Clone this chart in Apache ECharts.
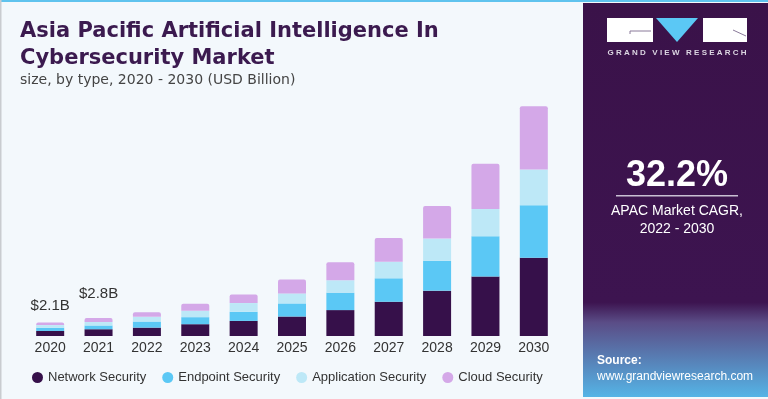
<!DOCTYPE html>
<html lang="en">
<head>
  <meta charset="UTF-8">
  <title>Asia Pacific AI in Cybersecurity Market</title>
  <script src="https://cdn.jsdelivr.net/npm/echarts@6/dist/echarts.min.js"></script>
  <style>
    html, body {
      margin: 0;
      padding: 0;
      background: #f3f8fc;
    }

    #main {
      width: 768px;
      height: 399px;
    }
  </style>
</head>
<body>
<div id="main"></div>
<script>
  // data (USD Billion)
  var years = ['2020', '2021', '2022', '2023', '2024', '2025', '2026', '2027', '2028', '2029', '2030'];
  var network = [0.78, 1.05, 1.30, 1.83, 2.34, 3.02, 4.02, 5.31, 7.03, 9.22, 12.14];
  var endpoint = [0.50, 0.58, 0.94, 1.09, 1.41, 2.03, 2.70, 3.64, 4.64, 6.25, 8.13];
  var application = [0.41, 0.53, 0.73, 0.98, 1.36, 1.56, 1.92, 2.56, 3.44, 4.22, 5.56];
  var cloud = [0.41, 0.64, 0.73, 1.09, 1.34, 2.14, 2.81, 3.69, 5.05, 7.03, 9.80];
  var topLabels = ['$2.1B', '$2.8B'];

  var font = 'Liberation Sans, Arial, sans-serif';
  var wide = 'DejaVu Sans, sans-serif';
  var myChart = echarts.init(document.getElementById('main'));

  // only the first two bars carry a total label
  var cloudData = cloud.map(function (v, i) {
    var item = {value: v};
    if (i < topLabels.length) {
      item.label = {
        show: true,
        position: 'top',
        distance: i === 0 ? 9 : 17,
        formatter: topLabels[i],
        fontSize: 15,
        color: '#333',
        fontFamily: font
      };
    }
    return item;
  });

  function bar(name, data, color) {
    return {
      name: name,
      type: 'bar',
      stack: 'total',
      barWidth: 28,
      data: data,
      itemStyle: {color: color},
      emphasis: {disabled: true}
    };
  }

  var cloudSeries = bar('Cloud Security', cloudData, '#d4a8e8');
  cloudSeries.itemStyle.borderRadius = [2, 2, 0, 0];

  var option = {
    backgroundColor: '#f3f8fc',
    animation: false,
    title: [{
      text: 'Asia Pacific Artificial Intelligence In\nCybersecurity Market',
      left: 15,
      top: 13,
      textStyle: {
        fontFamily: wide,
        fontSize: 21,
        fontWeight: 'bold',
        color: '#3b1a4f',
        lineHeight: 27
      }
    }, {
      text: 'size, by type, 2020 - 2030 (USD Billion)',
      left: 15,
      top: 68,
      textStyle: {
        fontFamily: wide,
        fontSize: 14,
        fontWeight: 'normal',
        color: '#444'
      }
    }],
    legend: {
      bottom: 10,
      left: 27,
      icon: 'circle',
      itemWidth: 11,
      itemHeight: 11,
      itemGap: 16,
      textStyle: {fontFamily: font, fontSize: 13, color: '#333'},
      data: ['Network Security', 'Endpoint Security', 'Application Security', 'Cloud Security']
    },
    grid: {
      left: 26,
      right: 210,
      top: 100,
      bottom: 63
    },
    xAxis: {
      type: 'category',
      data: years,
      axisLine: {show: false},
      axisTick: {show: false},
      axisLabel: {fontFamily: font, fontSize: 14, color: '#333', margin: 5}
    },
    yAxis: {
      type: 'value',
      min: 0,
      max: 36.6,
      show: false
    },
    series: [
      bar('Network Security', network, '#36104a'),
      bar('Endpoint Security', endpoint, '#5bc8f5'),
      bar('Application Security', application, '#bde8f7'),
      cloudSeries
    ],
    graphic: [
      // frame lines
      {type: 'rect', shape: {x: 0, y: 0, width: 768, height: 2}, style: {fill: '#5fc3ee'}},
      {type: 'rect', shape: {x: 0, y: 0, width: 1.5, height: 399}, style: {fill: '#c9ccd0'}},
      // right panel
      {
        type: 'rect',
        shape: {x: 583, y: 3, width: 185, height: 394},
        style: {
          fill: new echarts.graphic.LinearGradient(0, 0, 0, 1, [
            {offset: 0, color: '#3a1249'},
            {offset: 0.76, color: '#3d1450'},
            {offset: 0.81, color: '#5a4c86'},
            {offset: 1, color: '#55b4e6'}
          ])
        }
      },
      // logo
      {type: 'rect', shape: {x: 607, y: 18, width: 46, height: 24}, style: {fill: '#ffffff'}},
      {type: 'polyline', shape: {points: [[651, 31], [630, 31], [630, 34]]}, style: {stroke: '#8a7a9a', lineWidth: 1}},
      {type: 'polygon', shape: {points: [[656, 18], [698, 18], [677, 42]]}, style: {fill: '#5bc8f5'}},
      {type: 'rect', shape: {x: 703, y: 18, width: 44, height: 24}, style: {fill: '#ffffff'}},
      {type: 'polyline', shape: {points: [[733, 30], [746, 36]]}, style: {stroke: '#8a7a9a', lineWidth: 1}},
      {
        type: 'text', x: 677, y: 53,
        style: {
          text: 'G R A N D   V I E W   R E S E A R C H',
          fill: '#dcd6e2',
          font: 'bold 8px ' + font,
          align: 'center',
          verticalAlign: 'middle'
        }
      },
      // CAGR block
      {
        type: 'text', x: 677, y: 176,
        style: {text: '32.2%', fill: '#ffffff', font: 'bold 36px ' + font, align: 'center', verticalAlign: 'middle'}
      },
      {type: 'rect', shape: {x: 616, y: 195, width: 122, height: 1.5}, style: {fill: '#c9bfd3'}},
      {
        type: 'text', x: 677, y: 211,
        style: {text: 'APAC Market CAGR,', fill: '#ffffff', font: '14px ' + font, align: 'center', verticalAlign: 'middle'}
      },
      {
        type: 'text', x: 677, y: 229,
        style: {text: '2022 - 2030', fill: '#ffffff', font: '14px ' + font, align: 'center', verticalAlign: 'middle'}
      },
      // source
      {
        type: 'text', x: 597, y: 361,
        style: {text: 'Source:', fill: '#ffffff', font: 'bold 12px ' + font, verticalAlign: 'middle'}
      },
      {
        type: 'text', x: 597, y: 377,
        style: {text: 'www.grandviewresearch.com', fill: '#ffffff', font: '12px ' + font, verticalAlign: 'middle'}
      }
    ]
  };

  myChart.setOption(option);
</script>
</body>
</html>
